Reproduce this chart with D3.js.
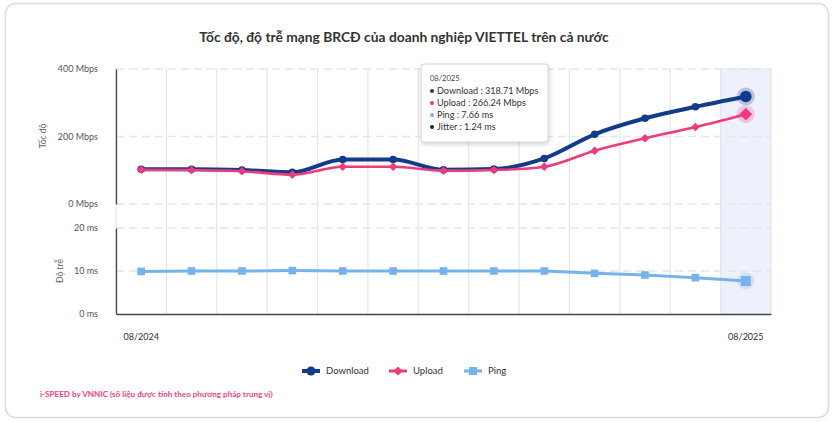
<!DOCTYPE html>
<html><head><meta charset="utf-8">
<script src="https://cdn.jsdelivr.net/npm/d3@7"></script>
<style>
html,body{margin:0;padding:0;background:#fff;}
svg{display:block;font-family:Lato,"Noto Sans",sans-serif;}
</style></head>
<body>
<svg id="c" width="834" height="422"></svg>
<script>
const months = ["08/2024","09/2024","10/2024","11/2024","12/2024","01/2025","02/2025","03/2025","04/2025","05/2025","06/2025","07/2025","08/2025"];
const download = [102.8, 103, 100.7, 94, 132, 132, 101.7, 103.7, 135, 206.5, 254, 288, 318.71];
const upload = [101.6, 100.7, 97, 87, 110.5, 110.5, 98.8, 100.7, 110.6, 158, 194.6, 228, 266.24];
const ping = [9.9, 10.0, 10.0, 10.1, 10.0, 10.0, 10.0, 10.0, 10.0, 9.45, 9.07, 8.45, 7.66];
const jitterLast = 1.24;
const speedTicks = [0, 200, 400];
const pingTicks = [0, 10, 20];
const xLabels = ["08/2024", "08/2025"];
const title = "Tốc độ, độ trễ mạng BRCĐ của doanh nghiệp VIETTEL trên cả nước";
const footer = "i-SPEED by VNNIC (số liệu được tính theo phương pháp trung vị)";

const C = {dl:"#133b8c", ul:"#ef3a7d", ping:"#76b3ec", grid:"#e6e6e6", axis:"#444"};
const svg = d3.select("#c");

// card
svg.append("rect").attr("x",5.5).attr("y",3.5).attr("width",823).attr("height",414)
  .attr("rx",10).attr("fill","#fff").attr("stroke","#dcdcdc").attr("stroke-width",1.5);

svg.append("text").attr("x",404).attr("y",42).attr("text-anchor","middle")
  .attr("font-size",13.8).attr("font-weight",700).attr("fill","#333").text(title);

const x = d3.scaleBand().domain(months).range([116, 771]).padding(0);
const ySp = d3.scaleLinear().domain([0,400]).range([204, 69]);
const yPi = d3.scaleLinear().domain([0,20]).range([314, 228]);
const plotTop = 68, plotBottom = 314;

// highlight band (hovered category)
const last = months[months.length-1];
svg.append("rect").attr("x",x(last)).attr("y",plotTop).attr("width",x.bandwidth()).attr("height",plotBottom-plotTop)
  .attr("fill","#eef0fc");

// vertical grid lines at band boundaries
const bounds = months.map(m => x(m)).concat([x(last)+x.bandwidth()]);
svg.append("g").selectAll("line").data(bounds).join("line")
  .attr("x1",d=>d).attr("x2",d=>d).attr("y1",plotTop).attr("y2",plotBottom)
  .attr("stroke",C.grid).attr("stroke-width",1.2);

// horizontal dashed grid
function hgrid(scale, ticks){
  svg.append("g").selectAll("line").data(ticks).join("line")
    .attr("x1",116).attr("x2",771).attr("y1",d=>scale(d)).attr("y2",d=>scale(d))
    .attr("stroke",C.grid).attr("stroke-width",1.5).attr("stroke-dasharray","8,5");
}
hgrid(ySp, speedTicks);
hgrid(yPi, pingTicks.filter(d=>d>0));

// axes
const axSp = svg.append("g").attr("transform","translate(116,0)")
  .call(d3.axisLeft(ySp).tickValues(speedTicks).tickSize(0).tickPadding(18).tickFormat(d=>d+" Mbps"));
const axPi = svg.append("g").attr("transform","translate(116,0)")
  .call(d3.axisLeft(yPi).tickValues(pingTicks).tickSize(0).tickPadding(18).tickFormat(d=>d+" ms"));
[axSp, axPi].forEach(g=>{
  g.select(".domain").attr("stroke",C.axis).attr("stroke-width",1.3);
  g.selectAll("text").attr("font-size",9).attr("fill","#555").attr("font-family","Lato,sans-serif");
});
const axX = svg.append("g").attr("transform","translate(0,314)")
  .call(d3.axisBottom(x).tickValues(xLabels).tickSize(0).tickPadding(20));
axX.select(".domain").attr("stroke",C.axis).attr("stroke-width",1.5);
axX.selectAll("text").attr("font-size",9).attr("fill","#333").attr("font-family","Lato,sans-serif");

// axis titles
svg.append("text").attr("transform","translate(46,136) rotate(-90)").attr("text-anchor","middle")
  .attr("font-size",8.5).attr("fill","#666").text("Tốc độ");
svg.append("text").attr("transform","translate(63,271) rotate(-90)").attr("text-anchor","middle")
  .attr("font-size",8.5).attr("fill","#666").text("Độ trễ");

const cx = m => x(m) + x.bandwidth()/2;
const lineSp = d3.line().x((d,i)=>cx(months[i])).y(d=>ySp(d)).curve(d3.curveMonotoneX);
const linePi = d3.line().x((d,i)=>cx(months[i])).y(d=>yPi(d));

// ping
svg.append("path").attr("d",linePi(ping)).attr("fill","none").attr("stroke",C.ping).attr("stroke-width",3);
svg.append("g").selectAll("rect").data(ping.slice(0,-1)).join("rect")
  .attr("x",(d,i)=>cx(months[i])-3.8).attr("y",d=>yPi(d)-3.8).attr("width",7.6).attr("height",7.6).attr("fill",C.ping);

// download
svg.append("path").attr("d",lineSp(download)).attr("fill","none").attr("stroke",C.dl).attr("stroke-width",4);
svg.append("g").selectAll("circle").data(download.slice(0,-1)).join("circle")
  .attr("cx",(d,i)=>cx(months[i])).attr("cy",d=>ySp(d)).attr("r",3.8).attr("fill",C.dl);

// upload
svg.append("path").attr("d",lineSp(upload)).attr("fill","none").attr("stroke",C.ul).attr("stroke-width",2.6);
const dia = (px,py,r)=>`M${px},${py-r}L${px+r},${py}L${px},${py+r}L${px-r},${py}Z`;
svg.append("g").selectAll("path").data(upload.slice(0,-1)).join("path")
  .attr("d",(d,i)=>dia(cx(months[i]), ySp(d), 4.3)).attr("fill",C.ul);

// hovered last points with halos
const li = months.length-1, lx = cx(last);
svg.append("circle").attr("cx",lx).attr("cy",ySp(download[li])).attr("r",9).attr("fill",C.dl).attr("opacity",0.25);
svg.append("circle").attr("cx",lx).attr("cy",ySp(download[li])).attr("r",5.8).attr("fill",C.dl);
svg.append("circle").attr("cx",lx).attr("cy",ySp(upload[li])).attr("r",9).attr("fill",C.ul).attr("opacity",0.22);
svg.append("path").attr("d",dia(lx, ySp(upload[li]), 6.3)).attr("fill",C.ul);
svg.append("circle").attr("cx",lx).attr("cy",yPi(ping[li])).attr("r",8.5).attr("fill",C.ping).attr("opacity",0.25);
svg.append("rect").attr("x",lx-5).attr("y",yPi(ping[li])-5).attr("width",10).attr("height",10).attr("fill",C.ping);

// tooltip
const defs = svg.append("defs");
const f = defs.append("filter").attr("id","sh").attr("x","-20%").attr("y","-20%").attr("width","140%").attr("height","150%");
f.append("feDropShadow").attr("dx",1).attr("dy",2).attr("stdDeviation",2).attr("flood-color","#000").attr("flood-opacity",0.18);
const tt = svg.append("g").attr("transform","translate(421,64)");
tt.append("rect").attr("width",127).attr("height",78).attr("rx",3).attr("fill","#fff")
  .attr("stroke","#d5d5d5").attr("stroke-width",1).attr("filter","url(#sh)");
tt.append("text").attr("x",9).attr("y",17).attr("font-size",7.5).attr("fill","#444").text(last);
const rows = [
  {c:C.dl, t:`Download : ${download[li]} Mbps`},
  {c:C.ul, t:`Upload : ${upload[li]} Mbps`},
  {c:C.ping, t:`Ping : ${ping[li]} ms`},
  {c:"#222", t:`Jitter : ${jitterLast} ms`}
];
rows.forEach((r,i)=>{
  const yy = 27 + i*12;
  tt.append("circle").attr("cx",11).attr("cy",yy).attr("r",2).attr("fill",r.c);
  tt.append("text").attr("x",16).attr("y",yy+3).attr("font-size",9.1).attr("fill","#333").text(r.t);
});

// legend
const legend = [
  {n:"Download", c:C.dl, s:"circle", x:302},
  {n:"Upload", c:C.ul, s:"diamond", x:389},
  {n:"Ping", c:C.ping, s:"square", x:464}
];
legend.forEach(l=>{
  const g = svg.append("g").attr("transform",`translate(${l.x},371)`);
  g.append("line").attr("x1",0).attr("x2",18).attr("stroke",l.c).attr("stroke-width",l.s==="circle"?4:3);
  if(l.s==="circle") g.append("circle").attr("cx",9).attr("r",4.5).attr("fill",l.c);
  else if(l.s==="diamond") g.append("path").attr("d",dia(9,0,4.5)).attr("fill",l.c);
  else g.append("rect").attr("x",5).attr("y",-4).attr("width",8).attr("height",8).attr("fill",l.c);
  g.append("text").attr("x",24).attr("y",3.3).attr("font-size",9.5).attr("fill","#333").text(l.n);
});

// footer
svg.append("text").attr("x",40).attr("y",397).attr("font-size",8.1).attr("font-weight",700)
  .attr("fill","#f0447f").text(footer);
</script>
</body></html>
